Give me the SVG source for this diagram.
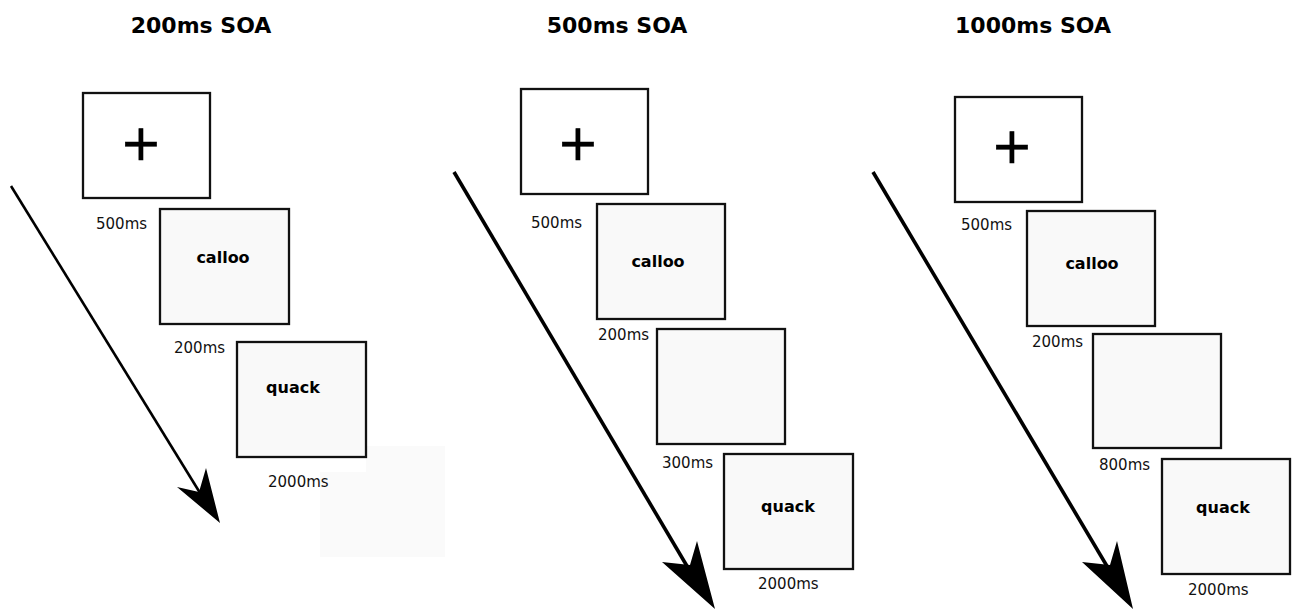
<svg xmlns="http://www.w3.org/2000/svg" width="1298" height="609" viewBox="0 0 1298 609">
  <style>
    .title { font-family: "DejaVu Sans", Verdana, sans-serif; font-weight: bold; font-size: 22px; fill: #000; text-anchor: middle; }
    .dur { font-family: "DejaVu Sans", Verdana, sans-serif; font-size: 15px; fill: #111; }
    .word { font-family: "DejaVu Sans", Verdana, sans-serif; font-weight: bold; font-size: 16px; fill: #000; text-anchor: middle; }
    .fix { font-family: "DejaVu Sans", sans-serif; font-size: 50px; fill: #000; stroke: #000; stroke-width: 0.6; text-anchor: middle; }
    .screen { fill: #f9f9f9; stroke: #111; stroke-width: 2.3; }
    .blank { fill: #ffffff; stroke: #111; stroke-width: 2.3; }
    .timeline { stroke: #000; fill: none; }
    .head { fill: #000; stroke: none; }
  </style>
  <rect width="1298" height="609" fill="#ffffff"/>

  <!-- Condition titles -->
  <g id="titles">
    <text class="title" x="201" y="33">200ms SOA</text>
    <text class="title" x="617" y="33">500ms SOA</text>
    <text class="title" x="1033" y="33">1000ms SOA</text>
  </g>

  <!-- Time arrows -->
  <g id="connectors">
    <line class="timeline" x1="11" y1="186" x2="205" y2="501" stroke-width="2.6"/>
    <polygon class="head" points="220,523 206,468 199,492 177,487"/>
    <line class="timeline" x1="454" y1="172" x2="697" y2="583" stroke-width="3.6"/>
    <polygon class="head" points="715,609 697,541 690,565 662,562"/>
    <line class="timeline" x1="873" y1="172" x2="1117" y2="583" stroke-width="3.6"/>
    <polygon class="head" points="1133,609 1117,541 1110,565 1082,562"/>
  </g>

  <!-- 200ms SOA -->
  <g id="soa200-fixation">
    <rect class="blank" x="83" y="93" width="127" height="105"/>
    <text class="fix" x="141" y="160">+</text>
    <text class="dur" x="96" y="229">500ms</text>
  </g>
  <g id="soa200-shade">
    <polygon fill="#fafafa" points="366,446 445,446 445,557 320,557 320,472 366,472"/>
  </g>
  <g id="soa200-prime">
    <rect class="screen" x="160" y="209" width="129" height="115"/>
    <text class="word" x="223" y="263">calloo</text>
    <text class="dur" x="174" y="353">200ms</text>
  </g>
  <g id="soa200-target">
    <rect class="screen" x="237" y="342" width="129" height="115"/>
    <text class="word" x="293" y="393">quack</text>
    <text class="dur" x="268" y="487">2000ms</text>
  </g>

  <!-- 500ms SOA -->
  <g id="soa500-fixation">
    <rect class="blank" x="521" y="89" width="127" height="105"/>
    <text class="fix" x="578" y="160">+</text>
    <text class="dur" x="531" y="228">500ms</text>
  </g>
  <g id="soa500-prime">
    <rect class="screen" x="597" y="204" width="128" height="115"/>
    <text class="word" x="658" y="267">calloo</text>
    <text class="dur" x="598" y="340">200ms</text>
  </g>
  <g id="soa500-gap">
    <rect class="screen" x="657" y="329" width="128" height="115"/>
    <text class="dur" x="662" y="468">300ms</text>
  </g>
  <g id="soa500-target">
    <rect class="screen" x="724" y="454" width="129" height="115"/>
    <text class="word" x="788" y="512">quack</text>
    <text class="dur" x="758" y="589">2000ms</text>
  </g>

  <!-- 1000ms SOA -->
  <g id="soa1000-fixation">
    <rect class="blank" x="955" y="97" width="127" height="105"/>
    <text class="fix" x="1012" y="163">+</text>
    <text class="dur" x="961" y="230">500ms</text>
  </g>
  <g id="soa1000-prime">
    <rect class="screen" x="1027" y="211" width="128" height="115"/>
    <text class="word" x="1092" y="269">calloo</text>
    <text class="dur" x="1032" y="347">200ms</text>
  </g>
  <g id="soa1000-gap">
    <rect class="screen" x="1093" y="334" width="128" height="114"/>
    <text class="dur" x="1099" y="470">800ms</text>
  </g>
  <g id="soa1000-target">
    <rect class="screen" x="1162" y="459" width="128" height="115"/>
    <text class="word" x="1223" y="513">quack</text>
    <text class="dur" x="1188" y="595">2000ms</text>
  </g>
</svg>
